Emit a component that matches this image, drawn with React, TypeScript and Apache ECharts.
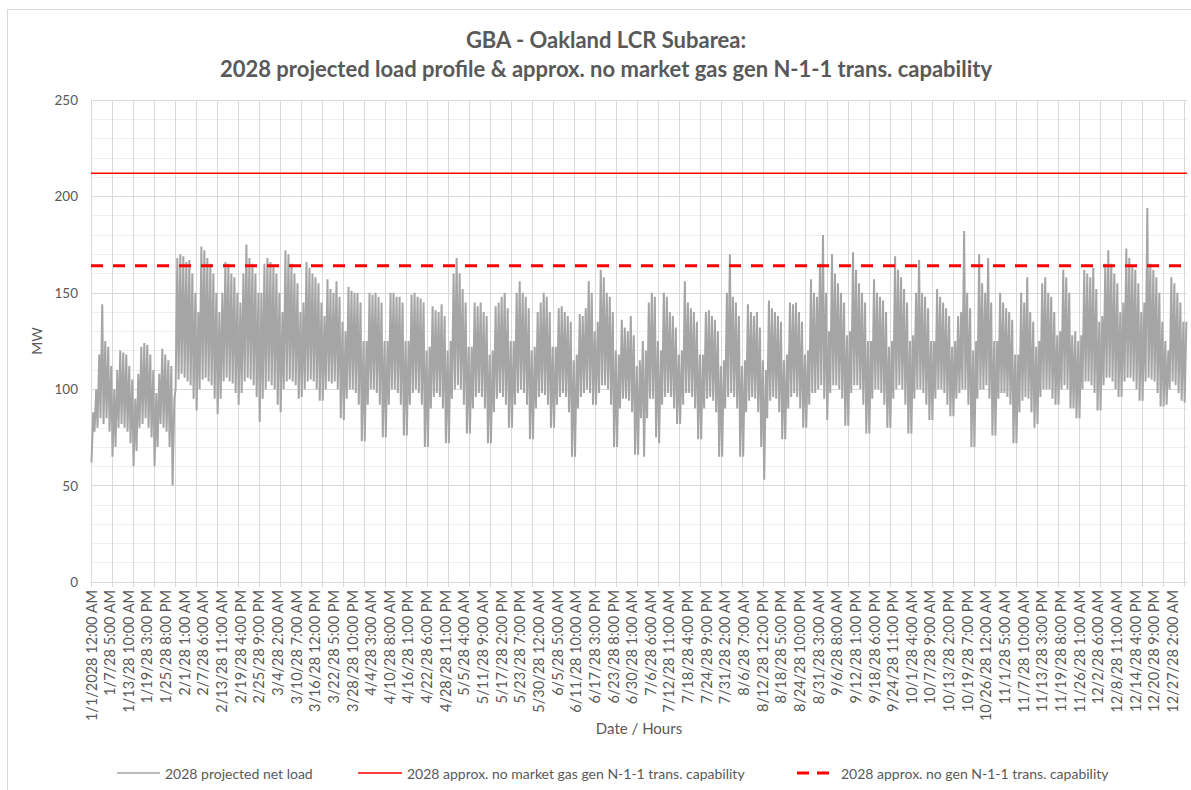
import React, { useEffect, useRef } from "react";
import * as echarts from "echarts";

// Calendar used by the source workbook (8760 hours, no Feb 29)
const monthLengths = [31, 28, 31, 30, 31, 30, 31, 31, 30, 31, 30, 31];
const labelEveryHours = 149;
const tickEveryHours = 168;

const seriesNames = [
  "2028 projected net load",
  "2028 approx. no market gas gen N-1-1 trans. capability",
  "2028 approx. no gen N-1-1 trans. capability",
];

// Constant capability limits (MW)
const noMarketGasGenCapability = 212;
const noGenCapability = 164;

// Hour of day at which the daily low / daily peak is placed
const lowHour = 4;
const peakHour = 18;

// Daily peak load (MW), one row per week (weeks start on the vertical gridlines)
const dailyPeak = [
  88, 100, 118, 144, 125, 122, 112,
  100, 110, 120, 119, 118, 112, 105,
  95, 108, 122, 124, 123, 118, 110,
  98, 108, 121, 118, 115, 112, 95,
  168, 170, 169, 166, 167, 160, 150,
  140, 174, 172, 168, 165, 160, 150,
  140, 150, 166, 165, 160, 158, 150,
  145, 160, 175, 168, 165, 160, 150,
  150, 165, 168, 166, 164, 160, 150,
  140, 172, 170, 165, 160, 155, 140,
  145, 166, 163, 160, 158, 155, 145,
  138, 157, 152, 150, 156, 148, 135,
  130, 153, 151, 150, 150, 145, 125,
  125, 150, 149, 150, 148, 145, 125,
  125, 150, 150, 148, 148, 145, 125,
  125, 149, 150, 148, 147, 145, 120,
  122, 143, 141, 140, 144, 138, 120,
  125, 160, 168, 160, 152, 145, 122,
  122, 145, 143, 145, 140, 138, 118,
  120, 143, 145, 148, 150, 142, 125,
  125, 150, 156, 150, 148, 142, 120,
  122, 140, 145, 150, 148, 140, 122,
  122, 142, 143, 140, 138, 135, 115,
  118, 139, 138, 142, 156, 150, 130,
  135, 162, 158, 150, 148, 140, 120,
  118, 136, 132, 130, 138, 128, 112,
  115, 125, 120, 145, 150, 148, 125,
  120, 150, 148, 140, 138, 132, 118,
  120, 156, 145, 142, 140, 135, 118,
  118, 140, 141, 138, 136, 130, 112,
  115, 150, 170, 148, 145, 138, 112,
  115, 144, 140, 138, 140, 132, 115,
  110, 146, 142, 140, 138, 135, 115,
  118, 145, 144, 145, 140, 135, 118,
  120, 157, 150, 148, 165, 180, 150,
  130, 170, 160, 155, 150, 145, 128,
  130, 171, 162, 155, 150, 145, 125,
  125, 157, 150, 148, 146, 140, 122,
  125, 169, 162, 158, 152, 145, 125,
  128, 150, 167, 150, 148, 142, 125,
  125, 152, 148, 145, 142, 138, 122,
  125, 138, 140, 182, 150, 142, 120,
  125, 170, 155, 150, 168, 145, 125,
  125, 150, 145, 142, 140, 136, 118,
  118, 150, 145, 158, 140, 135, 122,
  125, 155, 158, 150, 148, 140, 128,
  130, 162, 158, 150, 128, 130, 125,
  128, 162, 160, 158, 163, 152, 135,
  138, 165, 172, 165, 160, 155, 140,
  145, 173, 168, 164, 162, 155, 140,
  145, 194, 165, 162, 158, 150, 135,
  125, 120, 158, 155, 150, 145, 135,
  135,
];

// Daily minimum load (MW)
const dailyLow = [
  62, 78, 80, 85, 82, 85, 78,
  65, 70, 80, 82, 80, 78, 72,
  60, 68, 80, 82, 85, 80, 75,
  60, 70, 82, 80, 78, 70, 50,
  100, 105, 108, 106, 104, 102, 95,
  89, 100, 105, 106, 104, 102, 95,
  87, 95, 104, 106, 104, 103, 98,
  92, 98, 104, 106, 105, 102, 96,
  83, 95, 100, 104, 102, 100, 92,
  88, 100, 104, 105, 104, 102, 95,
  96, 100, 104, 105, 104, 100, 94,
  94, 100, 104, 103, 104, 100, 85,
  84, 95, 100, 100, 98, 92, 73,
  73, 92, 100, 100, 98, 92, 75,
  75, 92, 100, 100, 98, 92, 76,
  76, 92, 98, 100, 98, 92, 70,
  70, 90, 96, 98, 96, 90, 72,
  72, 95, 100, 102, 100, 92, 77,
  77, 90, 96, 98, 96, 90, 72,
  72, 88, 95, 98, 96, 92, 80,
  80, 92, 98, 100, 98, 92, 74,
  74, 90, 96, 98, 97, 92, 80,
  80, 92, 96, 98, 96, 88, 65,
  65, 90, 96, 98, 100, 98, 92,
  92, 98, 102, 102, 100, 92, 70,
  70, 90, 95, 95, 94, 88, 66,
  66, 85, 65, 85, 95, 95, 75,
  72, 92, 96, 98, 96, 90, 82,
  82, 92, 98, 98, 96, 90, 74,
  74, 90, 95, 96, 94, 88, 65,
  65, 90, 96, 98, 96, 90, 65,
  65, 88, 94, 96, 95, 88, 70,
  53, 85, 94, 96, 95, 88, 74,
  74, 90, 96, 98, 96, 90, 80,
  80, 92, 98, 98, 100, 102, 95,
  84, 98, 102, 102, 100, 95, 81,
  81, 98, 102, 102, 100, 92, 77,
  77, 95, 100, 100, 98, 92, 80,
  80, 95, 100, 102, 100, 92, 77,
  77, 95, 100, 100, 98, 92, 84,
  84, 95, 100, 100, 98, 92, 86,
  86, 95, 98, 100, 100, 92, 70,
  70, 95, 100, 100, 102, 95, 76,
  76, 95, 98, 98, 96, 92, 72,
  72, 88, 94, 96, 95, 88, 80,
  82, 96, 100, 100, 100, 95, 92,
  92, 100, 102, 100, 90, 90, 85,
  85, 100, 104, 104, 102, 98, 89,
  89, 102, 106, 106, 104, 100, 96,
  96, 104, 106, 106, 104, 100, 94,
  94, 104, 106, 105, 104, 98, 91,
  91, 92, 100, 104, 102, 98, 94,
  93,
];

function buildHourCategories(): string[] {
  const out: string[] = [];
  monthLengths.forEach((len, m) => {
    for (let d = 1; d <= len; d++) {
      for (let h = 0; h < 24; h++) {
        const h12 = h % 12 === 0 ? 12 : h % 12;
        const ap = h < 12 ? "AM" : "PM";
        const yr = out.length === 0 ? "2028" : "28";
        out.push(`${m + 1}/${d}/${yr} ${h12}:00 ${ap}`);
      }
    }
  });
  return out;
}

const FONT = "Lato, 'Open Sans', sans-serif";
const TEXT = "#595959";
const GRID = "#d9d9d9";
const LOAD_COLOR = "#a5a5a5";
const RED = "#ff0000";

// Manually drawn legend: icon x-start, icon x-end, text x
const legendLayout = [
  { x0: 117, x1: 160, tx: 165, color: LOAD_COLOR, width: 1.5, dash: null as number[] | null },
  { x0: 358, x1: 402, tx: 407, color: RED, width: 1.5, dash: null as number[] | null },
  { x0: 797, x1: 835, tx: 841, color: RED, width: 3, dash: [12, 8] },
];
const legendY = 773;

export default function App() {
  const ref = useRef<HTMLDivElement>(null);

  useEffect(() => {
    if (!ref.current) return;
    const chart = echarts.init(ref.current, undefined, { renderer: "svg" });
    const hours = buildHourCategories();
    const last = hours.length - 1;

    const loadData: [number, number][] = [];
    dailyPeak.forEach((p, d) => {
      loadData.push([d * 24 + lowHour, dailyLow[d]]);
      loadData.push([d * 24 + peakHour, p]);
    });

    const legendGraphics: any[] = [];
    legendLayout.forEach((it, i) => {
      legendGraphics.push({
        type: "line",
        shape: { x1: it.x0, y1: legendY, x2: it.x1, y2: legendY },
        style: { stroke: it.color, lineWidth: it.width, lineDash: it.dash || undefined },
        silent: true,
      });
      legendGraphics.push({
        type: "text",
        x: it.tx,
        y: legendY,
        style: {
          text: seriesNames[i],
          fill: TEXT,
          font: `14px ${FONT}`,
          verticalAlign: "middle",
          align: "left",
        },
        silent: true,
      });
    });

    chart.setOption({
      animation: false,
      backgroundColor: "#ffffff",
      textStyle: { fontFamily: FONT },
      title: {
        text: "GBA - Oakland LCR Subarea:\n2028 projected load profile & approx. no market gas gen N-1-1 trans. capability",
        left: 606,
        top: 25,
        padding: 0,
        textAlign: "center",
        textStyle: {
          fontFamily: FONT,
          fontSize: 22,
          fontWeight: "bold",
          color: TEXT,
          lineHeight: 29,
        },
      },
      graphic: [
        {
          type: "rect",
          shape: { x: 7.5, y: 9.5, width: 1200, height: 800 },
          style: { fill: "none", stroke: GRID, lineWidth: 1 },
          silent: true,
        },
        ...legendGraphics,
      ],
      grid: { left: 91, right: 4, top: 100, bottom: 208 },
      xAxis: {
        type: "category",
        data: hours,
        boundaryGap: false,
        name: "Date / Hours",
        nameLocation: "middle",
        nameGap: 138,
        nameMoveOverlap: false,
        nameTextStyle: { fontFamily: FONT, fontSize: 15, color: TEXT },
        axisLine: { lineStyle: { color: GRID } },
        axisTick: { interval: tickEveryHours - 1, length: 5, lineStyle: { color: GRID } },
        splitLine: { show: true, interval: tickEveryHours - 1, lineStyle: { color: GRID } },
        axisLabel: {
          interval: labelEveryHours - 1,
          rotate: 90,
          margin: 8,
          fontFamily: FONT,
          fontSize: 14.5,
          color: TEXT,
        },
      },
      yAxis: {
        type: "value",
        min: 0,
        max: 250,
        interval: 50,
        name: "MW",
        nameLocation: "middle",
        nameGap: 45,
        nameTextStyle: { fontFamily: FONT, fontSize: 14, color: TEXT },
        axisLine: { show: false },
        axisTick: { show: false },
        axisLabel: { margin: 13, fontFamily: FONT, fontSize: 13.5, color: TEXT },
        splitLine: { show: true, lineStyle: { color: GRID } },
        minorTick: { show: false, splitNumber: 5 },
        minorSplitLine: { show: true, lineStyle: { color: "#efefef" } },
      },
      series: [
        {
          name: seriesNames[0],
          type: "line",
          data: loadData,
          symbol: "none",
          lineStyle: { color: LOAD_COLOR, width: 2 },
          itemStyle: { color: LOAD_COLOR },
          z: 2,
        },
        {
          name: seriesNames[1],
          type: "line",
          data: [
            [0, noMarketGasGenCapability],
            [last, noMarketGasGenCapability],
          ],
          symbol: "none",
          lineStyle: { color: RED, width: 1.5 },
          itemStyle: { color: RED },
          z: 3,
        },
        {
          name: seriesNames[2],
          type: "line",
          data: [
            [0, noGenCapability],
            [last, noGenCapability],
          ],
          symbol: "none",
          lineStyle: { color: RED, width: 3, type: [12, 10] },
          itemStyle: { color: RED },
          z: 4,
        },
      ],
    });

    return () => chart.dispose();
  }, []);

  return (
    <div
      ref={ref}
      style={{ position: "fixed", left: 0, top: 0, width: 1191, height: 790, background: "#fff" }}
    />
  );
}
